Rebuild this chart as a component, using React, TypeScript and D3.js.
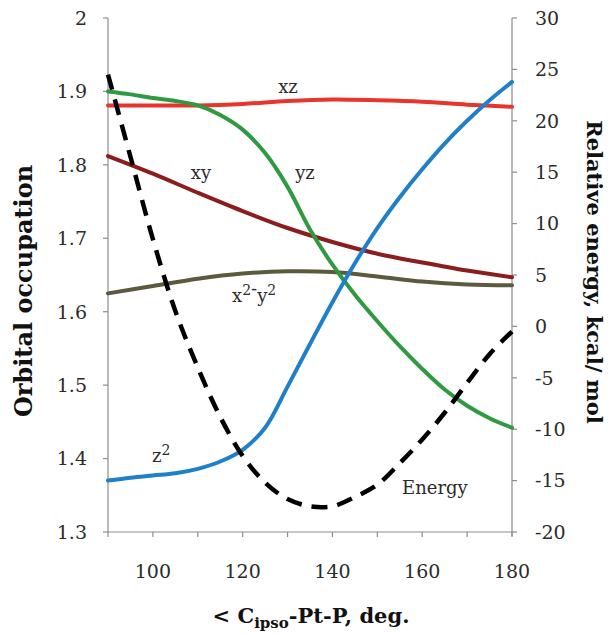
import React from "react";
import * as d3 from "d3";

const anglesCoarse = [90, 100, 110, 120, 130, 140, 150, 160, 170, 180];
const anglesFine = [90, 95, 100, 105, 110, 115, 120, 125, 130, 135, 140, 145, 150, 155, 160, 165, 170, 175, 180];

const xzOcc = [1.881, 1.881, 1.881, 1.883, 1.887, 1.889, 1.888, 1.886, 1.882, 1.879];
const xyOcc = [1.812, 1.788, 1.762, 1.737, 1.714, 1.695, 1.679, 1.667, 1.656, 1.647];
const x2y2Occ = [1.625, 1.635, 1.645, 1.652, 1.655, 1.654, 1.648, 1.641, 1.637, 1.636];
const yzOcc = [1.900, 1.896, 1.891, 1.887, 1.881, 1.868, 1.848, 1.816, 1.770, 1.712, 1.664, 1.623, 1.587, 1.553, 1.522, 1.494, 1.472, 1.455, 1.442];
const z2Occ = [1.370, 1.374, 1.377, 1.380, 1.386, 1.396, 1.412, 1.442, 1.498, 1.556, 1.613, 1.666, 1.714, 1.756, 1.794, 1.829, 1.860, 1.888, 1.913];
const energy = [24.5, 16.5, 8.5, 1.5, -4.0, -8.8, -12.6, -15.2, -16.8, -17.5, -17.5, -16.6, -15.4, -13.3, -11.0, -8.4, -5.5, -2.7, -0.5];

const xTicksMajor = [100, 120, 140, 160, 180];
const xTicksAll = [90, 100, 110, 120, 130, 140, 150, 160, 170, 180];
const leftTicks = [1.3, 1.4, 1.5, 1.6, 1.7, 1.8, 1.9, 2.0];
const rightTicks = [-20, -15, -10, -5, 0, 5, 10, 15, 20, 25, 30];

const W = 609, H = 635;
const L = 108, R = 512, T = 18, B = 532;
const FONT = "'DejaVu Serif', serif";
const AXIS = "#8e8e8e";
const TXT = "#2b2b2b";

export default function App() {
  const x = d3.scaleLinear().domain([90, 180]).range([L, R]);
  const yL = d3.scaleLinear().domain([1.3, 2.0]).range([B, T]);
  const yR = d3.scaleLinear().domain([-20, 30]).range([B, T]);
  const curve = d3.curveCatmullRom.alpha(0.5);

  const occLine = (xs: number[], ys: number[]) =>
    d3.line<number>().x((_, i) => x(xs[i])).y((v) => yL(v)).curve(curve)(ys) || "";
  const enLine = d3.line<number>().x((_, i) => x(anglesFine[i])).y((v) => yR(v)).curve(curve)(energy) || "";

  const series = [
    { d: occLine(anglesCoarse, x2y2Occ), c: "#5c5a3e" },
    { d: occLine(anglesCoarse, xyOcc), c: "#8c1d1d" },
    { d: occLine(anglesCoarse, xzOcc), c: "#e8352b" },
    { d: occLine(anglesFine, yzOcc), c: "#2f9a41" },
    { d: occLine(anglesFine, z2Occ), c: "#1f80c9" },
  ];

  return (
    <svg width={W} height={H} style={{ position: "absolute", left: 0, top: 0, background: "#fff" }} fontFamily={FONT}>
      <rect width={W} height={H} fill="#fff" />
      {/* axes */}
      <line x1={L} y1={T} x2={L} y2={B} stroke={AXIS} strokeWidth={1.2} />
      <line x1={R} y1={T} x2={R} y2={B + 4} stroke={AXIS} strokeWidth={1.2} />
      <line x1={L} y1={B} x2={R} y2={B} stroke={AXIS} strokeWidth={1.2} />
      {leftTicks.map((t) => (
        <g key={"l" + t}>
          <line x1={L - 5} x2={L} y1={yL(t)} y2={yL(t)} stroke={AXIS} strokeWidth={1.2} />
          <text x={L - 21} y={yL(t)} dy="0.36em" textAnchor="end" fontSize={19} fill={TXT}>
            {d3.format(t === 2 ? "d" : ".1f")(t)}
          </text>
        </g>
      ))}
      {rightTicks.map((t) => (
        <g key={"r" + t}>
          <line x1={R} x2={R + 5} y1={yR(t)} y2={yR(t)} stroke={AXIS} strokeWidth={1.2} />
          <text x={R + 23} y={yR(t)} dy="0.36em" textAnchor="start" fontSize={19} fill={TXT}>
            {t}
          </text>
        </g>
      ))}
      {xTicksAll.map((t) => (
        <line key={"x" + t} x1={x(t)} x2={x(t)} y1={B} y2={B + 5} stroke={AXIS} strokeWidth={1.2} />
      ))}
      {xTicksMajor.map((t) => (
        <text key={"xl" + t} x={x(t)} y={578} textAnchor="middle" fontSize={19} fill={TXT}>
          {t}
        </text>
      ))}
      {/* series */}
      {series.map((s, i) => (
        <path key={i} d={s.d} fill="none" stroke={s.c} strokeWidth={4} strokeLinecap="round" />
      ))}
      <path d={enLine} fill="none" stroke="#000" strokeWidth={4.5} strokeDasharray="16 10" />
      {/* labels */}
      <g fontSize={18} fill={TXT}>
        <text x={288} y={93} textAnchor="middle">xz</text>
        <text x={201} y={179} textAnchor="middle">xy</text>
        <text x={305} y={179} textAnchor="middle">yz</text>
        <text x={232} y={302}>
          <tspan>x</tspan>
          <tspan dy={-7} fontSize={14}>2</tspan>
          <tspan dy={0}>-</tspan>
          <tspan dy={7}>y</tspan>
          <tspan dy={-7} fontSize={14}>2</tspan>
        </text>
        <text x={152} y={462}>
          <tspan>z</tspan>
          <tspan dy={-7} fontSize={14}>2</tspan>
        </text>
        <text x={402} y={494}>Energy</text>
      </g>
      {/* titles */}
      <text transform={`translate(32,${(T + B) / 2 + 16}) rotate(-90)`} textAnchor="middle" fontSize={24} fontWeight="bold" fill="#111">
        Orbital occupation
      </text>
      <text transform={`translate(587,272) rotate(90)`} textAnchor="middle" fontSize={21} fontWeight="bold" fill="#111">
        Relative energy, kcal/ mol
      </text>
      <text x={311} y={623} textAnchor="middle" fontSize={21} fontWeight="bold" fill="#111">
        <tspan>{"< C"}</tspan>
        <tspan dy={5} fontSize={15}>ipso</tspan>
        <tspan dy={-5}>-Pt-P, deg.</tspan>
      </text>
    </svg>
  );
}
